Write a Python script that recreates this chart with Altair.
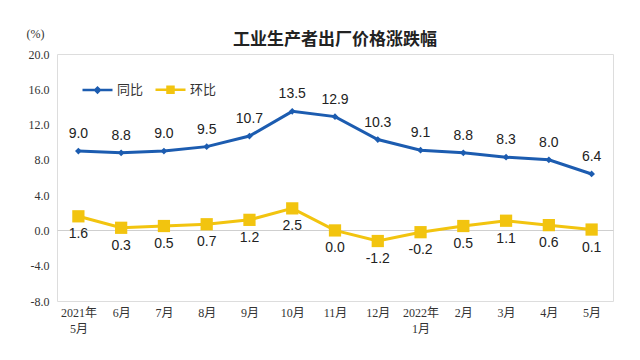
import altair as alt
import pandas as pd

months = ["2021年|5月", "6月", "7月", "8月", "9月", "10月", "11月", "12月",
          "2022年|1月", "2月", "3月", "4月", "5月"]
yoy = [9.0, 8.8, 9.0, 9.5, 10.7, 13.5, 12.9, 10.3, 9.1, 8.8, 8.3, 8.0, 6.4]
mom = [1.6, 0.3, 0.5, 0.7, 1.2, 2.5, 0.0, -1.2, -0.2, 0.5, 1.1, 0.6, 0.1]
series = ["同比", "环比"]
colors = ["#1c5cb0", "#f2c40f"]
y_ticks = [-8, -4, 0, 4, 8, 12, 16, 20]
legend_symbols = [
    "M-1,0L1,0M-0.16,0L0,-0.16L0.16,0L0,0.16Z",
    "M-1,0L1,0M-0.2,-0.2L0.2,-0.2L0.2,0.2L-0.2,0.2Z",
]

rows = []
for m, a, b in zip(months, yoy, mom):
    rows.append({"month": m, "series": series[0], "value": a})
    rows.append({"month": m, "series": series[1], "value": b})
df = pd.DataFrame(rows)

yscale = alt.Scale(domain=[-8, 20], nice=False, zero=False)

x = alt.X("month:N", sort=months, title=None,
          scale=alt.Scale(paddingInner=0, paddingOuter=0),
          axis=alt.Axis(labelAngle=0, domain=False, ticks=False,
                        labelExpr="split(datum.value, '|')",
                        labelFont="Liberation Serif, Noto Sans CJK SC",
                        labelFontSize=12, labelColor="#333333",
                        labelPadding=6, labelLineHeight=16))
y = alt.Y("value:Q", title="(%)", scale=yscale,
          axis=alt.Axis(values=y_ticks, format=".1f", domain=False,
                        grid=True,
                        gridColor=alt.condition("datum.value === 0",
                                                alt.value("#cfcfcf"),
                                                alt.value("transparent")),
                        gridWidth=1.2,
                        ticks=False, labelPadding=8, labelOverlap=False,
                        labelExpr="replace(datum.label, '−', '-')",
                        labelFont="Liberation Serif", labelFontSize=12,
                        labelColor="#333333",
                        titleAngle=0, titleX=-22, titleY=-14,
                        titleFont="Liberation Serif", titleFontSize=12,
                        titleFontWeight="normal", titleColor="#333333",
                        titleAlign="center"))
legend = alt.Legend(title=None, orient="none", legendX=24, legendY=19,
                    direction="horizontal",
                    symbolStrokeWidth=2.5, symbolSize=900,
                    labelFont="Noto Sans CJK SC", labelFontSize=13,
                    labelColor="#333333", columnPadding=6, labelOffset=3)
color = alt.Color("series:N", sort=series,
                  scale=alt.Scale(domain=series, range=colors), legend=legend)
shape = alt.Shape("series:N", sort=series,
                  scale=alt.Scale(domain=series, range=legend_symbols), legend=legend)

base = alt.Chart(df).transform_calculate(
    label="replace(format(datum.value, '.1f'), '−', '-')")

lines = base.mark_line(strokeWidth=3).encode(x=x, y=y, color=color)

leg = base.transform_filter("false").mark_point(filled=False, opacity=1).encode(
    x=x, y=y, color=color, shape=shape)

pts_yoy = base.transform_filter(alt.datum.series == series[0]).mark_point(
    shape="diamond", filled=True, size=45, opacity=1).encode(x=x, y=y, color=color)
pts_mom = base.transform_filter(alt.datum.series == series[1]).mark_point(
    shape="square", filled=True, size=150, opacity=1).encode(x=x, y=y, color=color)

lab_yoy = base.transform_filter(alt.datum.series == series[0]).mark_text(
    dy=-17, font="Liberation Sans", fontSize=14, color="#222222").encode(
    x=x, y=y, text="label:N")
lab_mom = base.transform_filter(alt.datum.series == series[1]).mark_text(
    dy=18, font="Liberation Sans", fontSize=14, color="#222222").encode(
    x=x, y=y, text="label:N")

chart = alt.layer(lines, leg, pts_yoy, pts_mom, lab_yoy, lab_mom).properties(
    width=556, height=247,
    title=alt.Title("工业生产者出厂价格涨跌幅", font="Noto Sans CJK SC", fontSize=17,
                    fontWeight="bold", color="#222222", offset=8, dy=30),
    padding={"left": 49, "top": 46, "right": 19, "bottom": 51},
    autosize=alt.AutoSizeParams(type="none"),
).configure_view(stroke="#d6d6d6", strokeWidth=1.5).configure(background="white")

chart.save("out.html", embed_options={"renderer": "svg", "actions": False})
